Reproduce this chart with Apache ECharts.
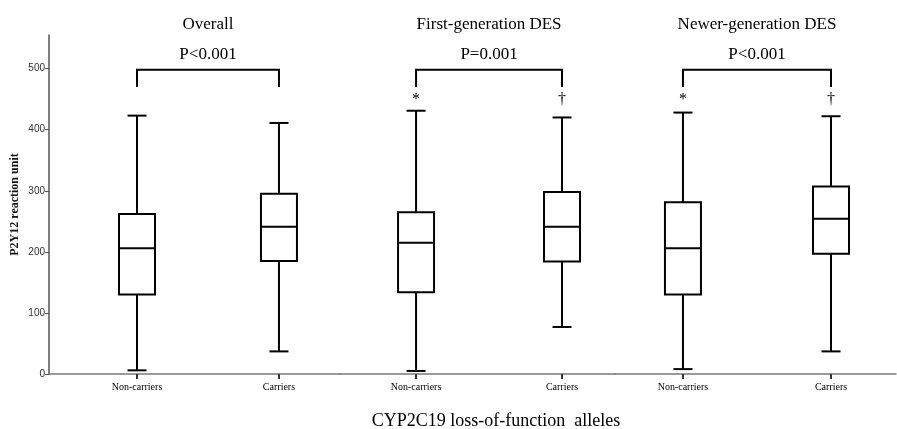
<!DOCTYPE html>
<html>
<head>
<meta charset="utf-8">
<script src="https://cdn.jsdelivr.net/npm/echarts@6/dist/echarts.min.js"></script>
<style>
  html, body { margin: 0; padding: 0; background: #fff; }
  #chart { width: 897px; height: 429px; }
</style>
</head>
<body>
<div id="chart"></div>
<script>
// values
const categories = ['Non-carriers', 'Carriers']
const panelTitles = ['Overall', 'First-generation DES', 'Newer-generation DES']
const pValues = ['P<0.001', 'P=0.001', 'P<0.001']
// [lower whisker, Q1, median, Q3, upper whisker]
const overallStats = [[6, 130, 206, 262, 423], [37, 185, 241, 295, 411]]
const firstGenStats = [[5, 134, 215, 265, 431], [77, 184, 241, 298, 420]]
const newerGenStats = [[8, 130, 206, 281, 428], [37, 197, 254, 307, 422]]
const markers = [['', ''], ['*', '\u2020'], ['*', '\u2020']]
const yTicks = [0, 100, 200, 300, 400, 500]
const markerLevel = 449
const bracketTop = 498
const bracketFoot = 470
const pLevel = 523
const titleLevel = 572

const serif = '"Liberation Serif", "Times New Roman", serif'
const panelStats = [overallStats, firstGenStats, newerGenStats]

// each panel: its own grid and x-range (the reference is three panels stitched together)
const grids = [
  { left: 49, width: 291, top: 35, bottom: 55 },
  { left: 340, width: 275, top: 35, bottom: 55 },
  { left: 615, width: 281, top: 35, bottom: 55 }
]
const xRanges = [[0.38, 2.43], [0.479, 2.363], [0.541, 2.439]]

function boxItem(params, api) {
  const x = api.value(0)
  const lo = api.coord([x, api.value(1)])
  const q1 = api.coord([x, api.value(2)])
  const med = api.coord([x, api.value(3)])
  const q3 = api.coord([x, api.value(4)])
  const hi = api.coord([x, api.value(5)])
  const half = 18
  const cap = 9.5
  const st = { stroke: '#000', lineWidth: 2 }
  return {
    type: 'group',
    children: [
      { type: 'line', shape: { x1: hi[0], y1: hi[1], x2: q3[0], y2: q3[1] }, style: st },
      { type: 'line', shape: { x1: q1[0], y1: q1[1], x2: lo[0], y2: lo[1] }, style: st },
      { type: 'line', shape: { x1: hi[0] - cap, y1: hi[1], x2: hi[0] + cap, y2: hi[1] }, style: st },
      { type: 'line', shape: { x1: lo[0] - cap, y1: lo[1], x2: lo[0] + cap, y2: lo[1] }, style: st },
      {
        type: 'rect',
        shape: { x: q3[0] - half, y: q3[1], width: half * 2, height: q1[1] - q3[1] },
        style: { fill: '#fff', stroke: '#000', lineWidth: 2 }
      },
      { type: 'line', shape: { x1: med[0] - half, y1: med[1], x2: med[0] + half, y2: med[1] }, style: st }
    ]
  }
}

function markerItem(params, api) {
  const p = api.coord([api.value(0), markerLevel])
  return {
    type: 'text',
    x: p[0],
    y: p[1],
    style: {
      text: markers[params.seriesIndex / 3 | 0][params.dataIndex],
      font: '16px ' + serif,
      fill: '#000',
      align: 'center',
      verticalAlign: 'middle'
    }
  }
}

function bracketItem(i, api) {
  const a = api.coord([1, bracketFoot])
  const b = api.coord([1, bracketTop])
  const c = api.coord([2, bracketTop])
  const d = api.coord([2, bracketFoot])
  const mid = api.coord([1.5, pLevel])
  const top = api.coord([1.5, titleLevel])
  const font = '17px ' + serif
  return {
    type: 'group',
    children: [
      {
        type: 'polyline',
        shape: { points: [a, b, c, d] },
        style: { stroke: '#000', lineWidth: 2, fill: null }
      },
      {
        type: 'text', x: mid[0], y: mid[1],
        style: { text: pValues[i], font: font, fill: '#000', align: 'center', verticalAlign: 'middle' }
      },
      {
        type: 'text', x: top[0], y: top[1],
        style: { text: panelTitles[i], font: font, fill: '#000', align: 'center', verticalAlign: 'middle' }
      }
    ]
  }
}

const xAxes = grids.map((g, i) => ({
  type: 'value',
  gridIndex: i,
  min: xRanges[i][0],
  max: xRanges[i][1],
  splitLine: { show: false },
  axisLine: { lineStyle: { color: '#7a7a7a', width: 1.5 } },
  axisTick: { customValues: [1, 2], length: 5, lineStyle: { color: '#333', width: 2 } },
  axisLabel: {
    customValues: [1, 2],
    formatter: v => categories[Math.round(v) - 1],
    margin: 8,
    fontFamily: serif,
    fontSize: 10,
    color: '#000'
  }
}))

const yAxes = grids.map((g, i) => ({
  type: 'value',
  gridIndex: i,
  min: 0,
  max: 555,
  show: i === 0,
  name: i === 0 ? 'P2Y12 reaction unit' : '',
  nameLocation: 'middle',
  nameGap: 28,
  nameTextStyle: { fontFamily: serif, fontWeight: 'bold', fontSize: 12, color: '#111' },
  splitLine: { show: false },
  axisLine: { show: true, lineStyle: { color: '#555', width: 1.5 } },
  axisTick: { show: true, customValues: yTicks, length: 4, lineStyle: { color: '#555' } },
  axisLabel: {
    customValues: yTicks,
    margin: 4,
    fontFamily: '"Liberation Sans", Arial, sans-serif',
    fontSize: 10,
    color: '#333'
  }
}))

const series = []
panelStats.forEach((stats, i) => {
  series.push({
    type: 'custom',
    xAxisIndex: i,
    yAxisIndex: i,
    renderItem: boxItem,
    data: stats.map((s, k) => [k + 1].concat(s)),
    silent: true
  })
  series.push({
    type: 'custom',
    xAxisIndex: i,
    yAxisIndex: i,
    renderItem: markerItem,
    data: [[1], [2]],
    silent: true
  })
  series.push({
    type: 'custom',
    xAxisIndex: i,
    yAxisIndex: i,
    renderItem: (params, api) => bracketItem(i, api),
    data: [[1.5]],
    silent: true
  })
})

const chart = echarts.init(document.getElementById('chart'))
chart.setOption({
  animation: false,
  backgroundColor: '#fff',
  grid: grids,
  xAxis: xAxes,
  yAxis: yAxes,
  graphic: [
    {
      type: 'text',
      x: 496,
      y: 421,
      style: {
        text: 'CYP2C19 loss-of-function  alleles',
        font: '18px ' + serif,
        fill: '#000',
        align: 'center',
        verticalAlign: 'middle'
      }
    }
  ],
  series: series
})
</script>
</body>
</html>
